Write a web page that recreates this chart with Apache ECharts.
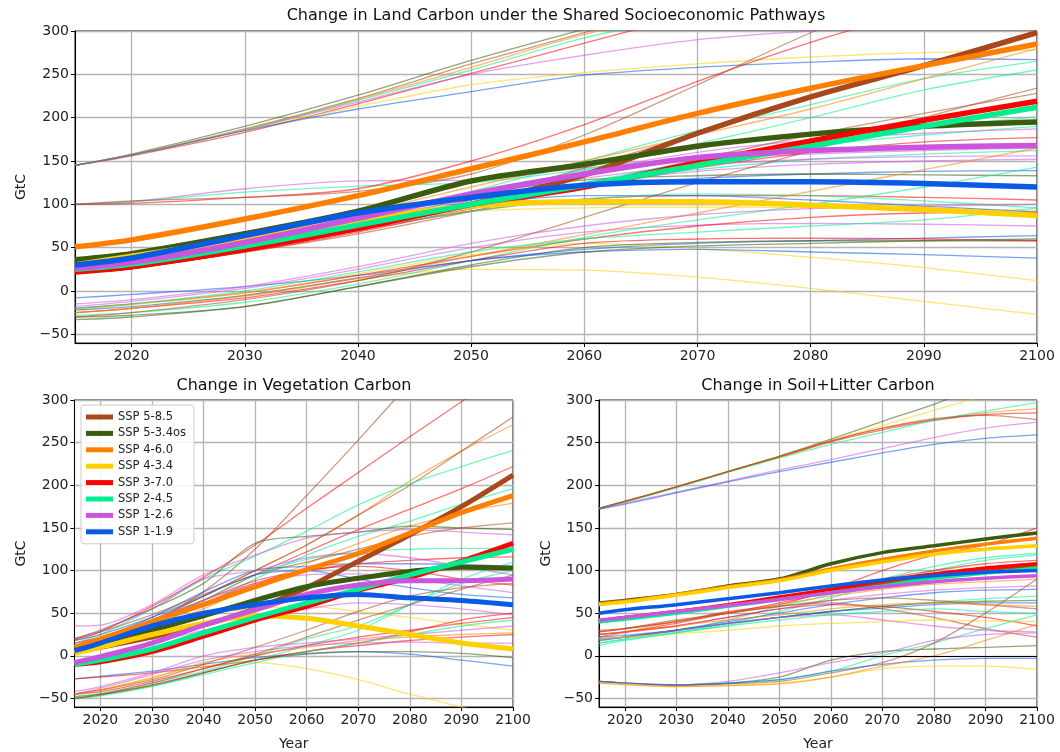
<!DOCTYPE html>
<html>
<head>
<meta charset="utf-8">
<title>Change in Land Carbon</title>
<script src="https://cdn.jsdelivr.net/npm/echarts@6/dist/echarts.min.js"></script>
<style>
  html, body { margin: 0; padding: 0; background: #fff; }
  #main { width: 1060px; height: 752px; }
</style>
</head>
<body>
<div id="main"></div>
<script>
var years = [2015, 2020, 2030, 2040, 2050, 2060, 2070, 2080, 2090, 2100];

var scenarios = ['SSP 5-8.5', 'SSP 5-3.4os', 'SSP 4-6.0', 'SSP 4-3.4', 'SSP 3-7.0', 'SSP 2-4.5', 'SSP 1-2.6', 'SSP 1-1.9'];
var colors = ['#a8481c', '#3a5c0e', '#ff8000', '#ffd000', '#ff0000', '#00ee90', '#cc55dd', '#0a5ae6'];

// ---- Land carbon (top), multi-model means, one row per scenario
var landMean = [
  [23, 28, 48, 74, 100, 134, 182, 224, 260, 298],
  [36, 43, 66, 92, 127, 146, 167, 181, 190, 195],
  [51, 59, 83, 110, 141, 172, 205, 234, 260, 285],
  [30, 40, 60, 82, 98, 103, 103, 99, 94, 87],
  [22, 28, 48, 72, 100, 120, 148, 173, 197, 219],
  [25, 31, 52, 76, 100, 122, 145, 167, 190, 212],
  [26, 33, 56, 84, 112, 135, 154, 162, 166, 168],
  [30, 38, 64, 90, 108, 122, 126, 126, 124, 120]
];
// single models: [scenario index, values...]
var landModels = [
  [1, 145, 158, 190, 226, 266, 302, 335, 365, 395, 420],
  [0, 145, 157, 187, 222, 262, 298, 338, 375, 410, 445],
  [2, 145, 157, 186, 221, 258, 296, 325, 350, 375, 395],
  [5, 145, 157, 186, 220, 255, 292, 318, 338, 355, 370],
  [4, 145, 156, 183, 216, 251, 286, 320, 350, 380, 405],
  [6, 145, 157, 186, 218, 250, 272, 290, 300, 308, 312],
  [3, 145, 157, 186, 213, 238, 252, 262, 270, 275, 278],
  [7, 145, 157, 185, 210, 230, 249, 258, 264, 268, 267],
  [6, 100, 103, 118, 127, 128, 142, 152, 158, 162, 165],
  [5, 100, 103, 114, 121, 125, 140, 155, 168, 180, 190],
  [4, 100, 101, 108, 118, 150, 192, 242, 287, 325, 360],
  [0, 100, 104, 108, 115, 135, 180, 238, 298, 350, 400],
  [0, 22, 28, 47, 73, 105, 142, 182, 222, 262, 299],
  [0, 22, 27, 45, 66, 92, 122, 152, 180, 205, 228],
  [5, 28, 34, 55, 82, 115, 150, 185, 215, 245, 265],
  [5, 26, 32, 52, 78, 108, 140, 170, 200, 232, 255],
  [5, 25, 30, 50, 74, 100, 125, 150, 170, 188, 201],
  [2, 38, 44, 64, 90, 120, 150, 180, 210, 245, 280],
  [4, 22, 27, 45, 68, 95, 118, 142, 160, 172, 177],
  [6, 28, 34, 56, 85, 112, 138, 160, 174, 182, 187],
  [5, 27, 32, 52, 78, 102, 125, 140, 152, 158, 162],
  [6, 30, 36, 58, 85, 110, 130, 145, 152, 155, 156],
  [6, 28, 34, 55, 82, 105, 124, 138, 146, 150, 152],
  [7, 30, 37, 60, 86, 108, 122, 130, 135, 138, 139],
  [1, 33, 40, 62, 88, 112, 128, 133, 135, 134, 133],
  [3, 30, 38, 58, 78, 92, 96, 97, 96, 95, 93],
  [4, 23, 28, 46, 70, 92, 106, 110, 110, 108, 105],
  [7, 30, 36, 58, 82, 100, 110, 110, 105, 98, 91],
  [5, 25, 30, 50, 72, 92, 106, 112, 110, 104, 96],
  [7, -8, -4, 5, 18, 35, 48, 55, 58, 61, 64],
  [6, -18, -12, 3, 25, 50, 68, 76, 78, 77, 75],
  [4, -20, -15, -2, 18, 40, 60, 75, 85, 90, 91],
  [3, -25, -20, -5, 14, 25, 24, 16, 3, -12, -27],
  [3, -22, -16, -2, 20, 42, 55, 49, 39, 27, 12],
  [5, -28, -25, -13, 8, 35, 62, 82, 100, 120, 143],
  [1, -30, -28, -18, 5, 30, 50, 56, 58, 58, 58],
  [4, -25, -20, -8, 12, 35, 55, 60, 61, 60, 58],
  [7, -22, -18, -5, 15, 35, 45, 48, 45, 42, 38],
  [0, -30, -25, -10, 12, 45, 85, 125, 162, 200, 234],
  [2, -25, -20, -6, 15, 40, 65, 90, 115, 140, 165],
  [5, -20, -15, 0, 22, 45, 60, 68, 75, 82, 96],
  [6, -15, -10, 5, 28, 55, 75, 88, 95, 98, 100],
  [1, -33, -30, -18, 5, 28, 45, 52, 55, 58, 60]
];

// ---- Vegetation carbon (bottom left)
var vegMean = [
  [5, 10, 22, 36, 55, 80, 111, 142, 175, 212],
  [5, 12, 30, 47, 65, 81, 91, 99, 104, 103],
  [10, 20, 40, 60, 81, 101, 120, 144, 168, 188],
  [3, 10, 25, 38, 47, 44, 35, 25, 15, 8],
  [-10, -7, 5, 23, 42, 58, 77, 92, 111, 132],
  [-10, -5, 8, 27, 45, 62, 78, 95, 110, 125],
  [-8, -1, 15, 36, 54, 72, 83, 88, 88, 90],
  [6, 15, 35, 50, 60, 68, 72, 68, 65, 60]
];
var vegModels = [
  [0, 10, 18, 40, 75, 125, 188, 253, 320, 385, 450],
  [4, 18, 28, 58, 92, 130, 173, 215, 257, 298, 340],
  [2, 8, 18, 40, 70, 100, 130, 165, 205, 240, 271],
  [0, 12, 20, 42, 70, 100, 130, 165, 200, 240, 280],
  [5, 15, 25, 55, 90, 117, 146, 177, 202, 222, 241],
  [4, 8, 16, 38, 65, 95, 122, 148, 172, 196, 222],
  [5, 5, 12, 35, 60, 90, 118, 140, 158, 178, 196],
  [2, 5, 12, 32, 55, 82, 108, 132, 152, 168, 179],
  [1, 20, 30, 55, 85, 132, 140, 145, 152, 150, 148],
  [6, 35, 36, 60, 95, 118, 138, 145, 148, 145, 142],
  [4, 15, 22, 42, 65, 88, 100, 108, 112, 115, 116],
  [5, 12, 20, 42, 65, 95, 113, 122, 125, 126, 126],
  [7, 10, 20, 45, 75, 100, 105, 108, 108, 107, 105],
  [6, 20, 30, 55, 90, 100, 115, 120, 115, 105, 95],
  [0, 20, 28, 48, 72, 95, 110, 125, 140, 150, 156],
  [4, 10, 18, 40, 62, 85, 100, 105, 100, 90, 83],
  [6, 12, 20, 42, 65, 85, 95, 96, 90, 82, 74],
  [3, 5, 12, 30, 48, 55, 58, 52, 45, 37, 30],
  [7, 18, 25, 45, 70, 95, 100, 90, 80, 72, 68],
  [7, -27, -24, -18, -10, -2, 3, 5, 2, -5, -12],
  [4, -27, -25, -20, -13, -5, 5, 15, 28, 42, 50],
  [1, -48, -45, -35, -20, -5, 2, 5, 5, 3, -2],
  [3, -45, -40, -25, -12, -8, -15, -28, -45, -60, -75],
  [5, -50, -46, -35, -20, -5, 12, 30, 60, 90, 110],
  [5, -48, -44, -32, -18, 0, 20, 35, 60, 85, 100],
  [0, -45, -40, -28, -10, 10, 30, 52, 70, 80, 85],
  [4, -45, -42, -30, -15, 0, 12, 22, 30, 38, 45],
  [4, -50, -46, -34, -20, -5, 5, 12, 18, 22, 25],
  [6, -42, -36, -20, 0, 10, 15, 20, 25, 30, 35],
  [5, -50, -47, -36, -22, -8, 5, 15, 25, 35, 42],
  [2, -45, -40, -26, -8, 2, 10, 18, 22, 25, 27],
  [6, -45, -38, -22, -5, 5, 12, 15, 16, 15, 15],
  [0, -50, -45, -32, -15, 2, 22, 42, 60, 78, 95],
  [6, -10, -3, 15, 30, 45, 55, 62, 60, 55, 48]
];

// ---- Soil + litter carbon (bottom right)
var soilMean = [
  [40, 44, 51, 59, 67, 76, 85, 94, 101, 106],
  [62, 65, 72, 82, 90, 108, 121, 129, 137, 144],
  [61, 64, 72, 81, 89, 102, 113, 123, 131, 138],
  [60, 63, 71, 80, 88, 100, 110, 119, 125, 129],
  [41, 45, 52, 60, 69, 78, 88, 96, 103, 108],
  [40, 43, 50, 58, 66, 74, 82, 91, 97, 103],
  [42, 45, 52, 59, 66, 74, 81, 87, 91, 94],
  [50, 54, 60, 67, 74, 82, 89, 94, 98, 100]
];
var soilModels = [
  [1, 173, 181, 198, 216, 234, 254, 275, 295, 318, 340],
  [3, 173, 181, 198, 216, 233, 252, 270, 288, 305, 320],
  [2, 173, 181, 198, 216, 234, 252, 267, 277, 285, 290],
  [4, 173, 181, 198, 216, 233, 251, 265, 276, 283, 285],
  [5, 173, 180, 197, 215, 232, 248, 262, 276, 287, 297],
  [0, 173, 181, 198, 216, 234, 252, 267, 278, 282, 277],
  [6, 172, 179, 192, 205, 218, 230, 243, 256, 267, 274],
  [7, 172, 178, 191, 204, 216, 227, 238, 248, 255, 259],
  [4, 28, 32, 40, 52, 60, 78, 100, 118, 130, 150],
  [5, 20, 22, 30, 42, 58, 72, 90, 105, 115, 120],
  [5, 15, 20, 28, 38, 52, 68, 85, 100, 112, 118],
  [4, 25, 28, 38, 50, 62, 75, 90, 100, 108, 112],
  [2, 22, 28, 40, 50, 60, 70, 78, 84, 87, 90],
  [6, 22, 27, 35, 45, 55, 65, 72, 77, 80, 82],
  [7, 18, 22, 30, 40, 50, 60, 68, 74, 77, 78],
  [5, 15, 19, 27, 36, 45, 52, 58, 63, 67, 70],
  [1, 20, 22, 30, 38, 45, 52, 58, 62, 64, 65],
  [7, 22, 24, 30, 38, 45, 52, 56, 60, 62, 62],
  [0, 30, 32, 40, 50, 58, 65, 68, 65, 60, 55],
  [4, 25, 28, 35, 45, 55, 60, 58, 52, 45, 35],
  [0, 28, 32, 42, 50, 58, 62, 55, 45, 32, 22],
  [6, 18, 22, 30, 38, 45, 48, 42, 35, 30, 28],
  [3, 20, 22, 26, 30, 35, 38, 40, 42, 41, 40],
  [5, 12, 18, 27, 35, 42, 48, 52, 55, 52, 50],
  [2, 25, 28, 35, 42, 48, 55, 60, 62, 60, 58],
  [1, -30, -32, -34, -32, -25, -5, 5, 8, 10, 12],
  [5, -30, -32, -34, -32, -28, -18, 0, 15, 32, 48],
  [0, -30, -32, -35, -33, -30, -20, -8, 15, 50, 90],
  [6, -30, -32, -34, -30, -20, -8, 3, 18, 25, 27],
  [7, -30, -32, -34, -32, -28, -18, -10, -5, -3, -3],
  [3, -32, -33, -36, -35, -32, -25, -15, -12, -12, -16],
  [2, -32, -34, -36, -35, -33, -25, -12, 0, 18, 37]
];

var font = 'DejaVu Sans';
var myChart = echarts.init(document.getElementById('main'));

function pairs(vals) {
  return years.map(function (y, i) { return [y, vals[i]]; });
}

var series = [];
function addPanel(idx, models, means, thickW) {
  models.forEach(function (row, k) {
    series.push({
      name: 'model-' + idx + '-' + k,
      type: 'line', xAxisIndex: idx, yAxisIndex: idx,
      data: pairs(row.slice(1)),
      showSymbol: false, smooth: 0.3, silent: true, z: 2,
      lineStyle: { width: 1.3, color: colors[row[0]], opacity: 0.55 }
    });
  });
  means.forEach(function (vals, s) {
    series.push({
      name: scenarios[s],
      type: 'line', xAxisIndex: idx, yAxisIndex: idx,
      data: pairs(vals),
      showSymbol: false, smooth: 0.3, silent: true, z: 3,
      color: colors[s],
      lineStyle: { width: thickW, color: colors[s] }
    });
  });
}
addPanel(0, landModels, landMean, 5.5);
addPanel(1, vegModels, vegMean, 5);
addPanel(2, soilModels, soilMean, 3.5);

// black zero line in the soil panel
series.push({
  name: 'zero', type: 'line', xAxisIndex: 2, yAxisIndex: 2, data: [], z: 4,
  markLine: {
    silent: true, symbol: 'none', label: { show: false },
    lineStyle: { color: '#000', width: 1.2, type: 'solid' },
    data: [{ yAxis: 0 }]
  }
});

function xAxis(idx, name) {
  return {
    type: 'value', gridIndex: idx, min: 2015, max: 2100, splitNumber: 9,
    name: name, nameLocation: 'middle', nameGap: 30,
    nameTextStyle: { fontFamily: font, fontSize: 14, color: '#222' },
    axisLine: { show: true, onZero: false, lineStyle: { color: '#000', width: 1 } },
    axisTick: { show: true, length: 4, lineStyle: { color: '#000' } },
    axisLabel: {
      showMinLabel: false, fontFamily: font, fontSize: 14, color: '#222', margin: 6,
      formatter: function (v) { return String(v); }
    },
    splitLine: { show: true, lineStyle: { color: '#b4b4b4', width: 1.3 } }
  };
}
function yAxis(idx, gap) {
  return {
    type: 'value', gridIndex: idx, min: -60, max: 300, splitNumber: 7,
    name: 'GtC', nameLocation: 'middle', nameGap: gap, nameRotate: 90,
    nameTextStyle: { fontFamily: font, fontSize: 14, color: '#222' },
    axisLine: { show: true, onZero: false, lineStyle: { color: '#000', width: 1 } },
    axisTick: { show: true, length: 4, lineStyle: { color: '#000' } },
    axisLabel: {
      showMinLabel: false, fontFamily: font, fontSize: 14, color: '#222', margin: 6,
      formatter: function (v) { return v < 0 ? '\u2212' + (-v) : String(v); }
    },
    splitLine: { show: true, lineStyle: { color: '#b4b4b4', width: 1.3 } }
  };
}

var option = {
  animation: false,
  backgroundColor: '#fff',
  graphic: [
    { type: 'text', x: 556, y: 16, style: { text: 'Change in Land Carbon under the Shared Socioeconomic Pathways', font: '16px "DejaVu Sans"', fill: '#111', align: 'center', verticalAlign: 'middle' } },
    { type: 'text', x: 294, y: 386, style: { text: 'Change in Vegetation Carbon', font: '16px "DejaVu Sans"', fill: '#111', align: 'center', verticalAlign: 'middle' } },
    { type: 'text', x: 818, y: 386, style: { text: 'Change in Soil+Litter Carbon', font: '16px "DejaVu Sans"', fill: '#111', align: 'center', verticalAlign: 'middle' } }
  ],
  legend: {
    data: scenarios,
    orient: 'vertical', left: 81, top: 405,
    icon: 'rect', itemWidth: 27, itemHeight: 5, itemGap: 4.4,
    padding: [6, 8, 6, 5],
    backgroundColor: 'rgba(255,255,255,0.85)',
    borderColor: '#cccccc', borderWidth: 1, borderRadius: 3,
    textStyle: { fontFamily: font, fontSize: 11.5, color: '#222', lineHeight: 12 },
    selectedMode: false, z: 10
  },
  grid: [
    { left: 75, top: 31, width: 962, height: 312, show: true, borderColor: '#000', borderWidth: 1, backgroundColor: 'transparent' },
    { left: 74.5, top: 400, width: 438.5, height: 312, show: true, borderColor: '#000', borderWidth: 1, backgroundColor: 'transparent' },
    { left: 599, top: 400, width: 438, height: 312, show: true, borderColor: '#000', borderWidth: 1, backgroundColor: 'transparent' }
  ],
  xAxis: [xAxis(0, ''), xAxis(1, 'Year'), xAxis(2, 'Year')],
  yAxis: [yAxis(0, 46), yAxis(1, 46), yAxis(2, 46)],
  series: series
};
myChart.setOption(option);
</script>
</body>
</html>
